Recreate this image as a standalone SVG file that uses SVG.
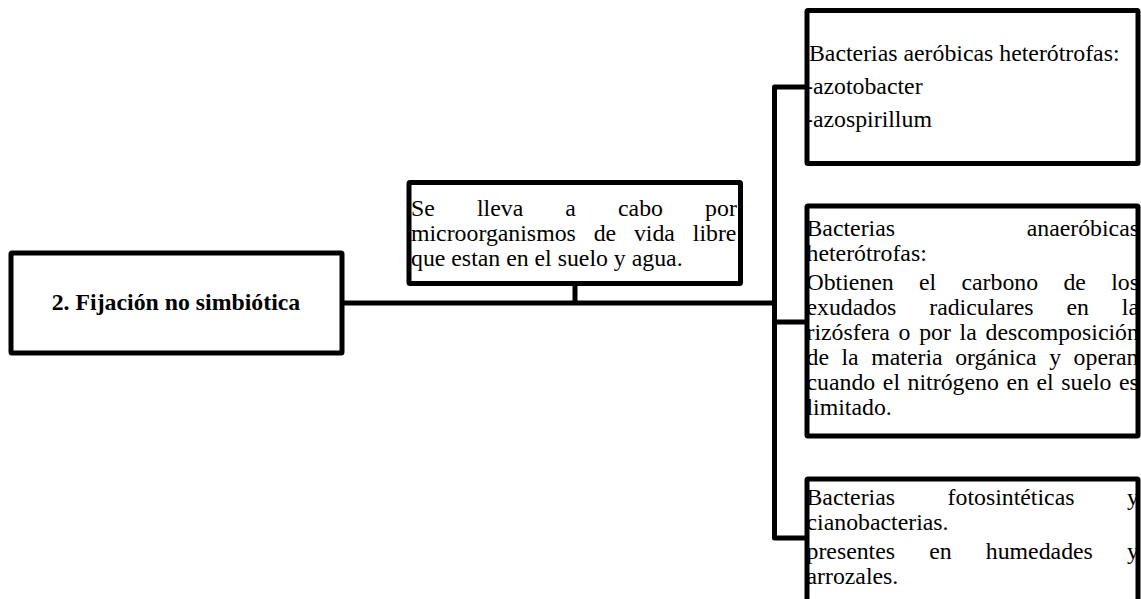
<svg xmlns="http://www.w3.org/2000/svg" width="1141" height="599" viewBox="0 0 1141 599">
<style>
.box{fill:#fff;stroke:#000;stroke-width:5;stroke-linejoin:round}
.t{font-family:"Liberation Serif","Times New Roman",serif;font-size:23.8px;fill:#000}
.b{font-weight:bold}
.c{fill:none;stroke:#000;stroke-width:5;stroke-linejoin:round;stroke-linecap:butt}
</style>
<rect x="0" y="0" width="1141" height="599" fill="#fff"/>
<g id="connectors">
<path class="c" d="M342 303 H774.5"/>
<path class="c" d="M575 283 V303"/>
<path class="c" d="M807 87 H774.5 V538 H807"/>
<path class="c" d="M774.5 322 H807"/>
</g>
<g id="node-main">
<rect class="box" x="11" y="253" width="331" height="100" rx="1"/>
<text class="t b" x="176" y="309.5" text-anchor="middle">2. Fijación no simbiótica</text>
</g>
<g id="node-desc">
<rect class="box" x="409" y="182.5" width="331.5" height="101" rx="1"/>
<text class="t" x="411" y="215.5" word-spacing="36.2">Se lleva a cabo por</text>
<text class="t" x="411" y="240.5" word-spacing="11.9">microorganismos de vida libre</text>
<text class="t" x="411" y="265.5">que estan en el suelo y agua.</text>
</g>
<g id="node-aerobicas">
<rect class="box" x="807" y="10.5" width="331" height="153" rx="1"/>
<text class="t" x="809" y="61">Bacterias aeróbicas heterótrofas:</text>
<text class="t" x="805" y="94">-azotobacter</text>
<text class="t" x="805" y="127">-azospirillum</text>
</g>
<g id="node-anaerobicas">
<rect class="box" x="807" y="206" width="331" height="230" rx="1"/>
<text class="t" x="806.5" y="236" word-spacing="125.7">Bacterias anaeróbicas</text>
<text class="t" x="806.5" y="261">heterótrofas:</text>
<text class="t" x="806.5" y="290" word-spacing="19.35">Obtienen el carbono de los</text>
<text class="t" x="806.5" y="315" word-spacing="26.9">exudados radiculares en la</text>
<text class="t" x="806.5" y="340" word-spacing="2.8">rizósfera o por la descomposición</text>
<text class="t" x="806.5" y="365" word-spacing="6.6">de la materia orgánica y operan</text>
<text class="t" x="806.5" y="390" word-spacing="1.65">cuando el nitrógeno en el suelo es</text>
<text class="t" x="806.5" y="415">limitado.</text>
</g>
<g id="node-fotosinteticas">
<rect class="box" x="807" y="479" width="331" height="140" rx="1"/>
<text class="t" x="806.5" y="505" word-spacing="46.6">Bacterias fotosintéticas y</text>
<text class="t" x="806.5" y="529.5">cianobacterias.</text>
<text class="t" x="806.5" y="558.5" word-spacing="28.2">presentes en humedades y</text>
<text class="t" x="806.5" y="583.5">arrozales.</text>
</g>
</svg>
